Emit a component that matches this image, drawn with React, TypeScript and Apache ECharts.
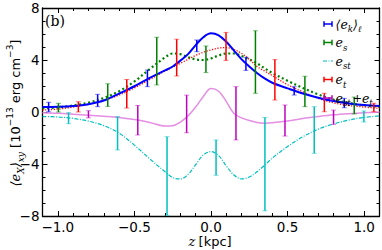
import React, { useEffect, useRef } from "react";
import * as echarts from "echarts";

// ---- data ----
const zs = [-1.1, -1.0, -0.9, -0.8, -0.7, -0.6, -0.5, -0.4, -0.3, -0.25, -0.2, -0.15, -0.1, -0.05, 0, 0.05, 0.1, 0.15, 0.2, 0.25, 0.3, 0.35, 0.4, 0.5, 0.6, 0.7, 0.8, 0.9, 1.0, 1.1];
const ekCurve = [0.38, 0.4, 0.46, 0.6, 0.88, 1.42, 1.98, 2.62, 3.2, 3.5, 3.95, 4.45, 5.15, 5.75, 6.05, 5.9, 5.4, 4.72, 4.05, 3.5, 3.0, 2.58, 2.25, 1.82, 1.42, 1.1, 0.84, 0.66, 0.53, 0.46];
const esCurve = [0.28, 0.35, 0.5, 0.72, 1.08, 1.6, 2.35, 3.3, 4.2, 4.5, 4.45, 4.22, 4.05, 4.0, 4.12, 4.35, 4.5, 4.5, 4.3, 4.05, 3.75, 3.36, 3.0, 2.4, 1.85, 1.35, 0.95, 0.7, 0.5, 0.4];
const etCurve = [0.15, 0.22, 0.38, 0.6, 0.9, 1.3, 1.85, 2.5, 3.15, 3.45, 3.75, 4.05, 4.35, 4.6, 4.78, 4.92, 4.95, 4.8, 4.5, 4.05, 3.5, 3.15, 2.8, 2.1, 1.55, 1.05, 0.7, 0.5, 0.38, 0.28];
const estCurve = [-0.35, -0.38, -0.5, -0.7, -1.05, -1.62, -2.55, -3.6, -4.6, -5.05, -5.15, -4.8, -4.05, -3.3, -3.05, -3.35, -4.15, -4.85, -5.15, -5.0, -4.6, -4.1, -3.55, -2.65, -1.9, -1.32, -0.92, -0.62, -0.42, -0.3];
const sumCurve = [-0.06, -0.1, -0.17, -0.25, -0.33, -0.42, -0.58, -0.8, -1.08, -1.06, -0.78, -0.3, 0.38, 1.2, 1.8, 1.6, 0.8, -0.12, -0.45, -0.66, -0.8, -0.86, -0.83, -0.7, -0.5, -0.35, -0.22, -0.13, -0.06, 0.0];

const ekBarZ = [-1.06, -0.74, -0.415, -0.093, 0.228, 0.543, 0.87];
const ekBarLo = [0.02, 0.41, 1.95, 4.64, 3.2, 1.3, 0.33];
const ekBarHi = [0.75, 1.36, 3.23, 5.54, 4.2, 1.95, 1.05];

const esBarZ = [-0.996, -0.674, -0.354, -0.033, 0.29, 0.613, 0.935];
const esBarLo = [0.0, 0.43, 2.08, 3.03, 1.44, 0.41, -0.15];
const esBarHi = [0.67, 2.17, 5.75, 5.08, 6.25, 2.75, 1.15];

const etBarZ = [-0.866, -0.55, -0.224, 0.098, 0.417, 0.74, 1.063];
const etBarLo = [0.0, 0.3, 2.77, 3.97, 0.92, 0.02, 0.02];
const etBarHi = [0.79, 2.5, 5.6, 6.12, 4.03, 1.44, 0.67];

const estBarZ = [-0.93, -0.61, -0.287, 0.033, 0.352, 0.674, 0.998];
const estBarLo = [-0.9, -2.92, -7.95, -4.87, -7.6, -3.18, -0.77];
const estBarHi = [-0.05, -0.36, -1.9, -2.15, -0.42, 0.41, 0.08];

const sumBarZ = [-0.8, -0.478, -0.159, 0.163, 0.483, 0.8];
const sumBarLo = [-0.45, -1.77, -1.6, -2.15, -1.85, -0.95];
const sumBarHi = [0.1, 0.5, 1.3, 1.95, 0.54, 0.15];

const xMajorTicks = [-1.0, -0.5, 0.0, 0.5, 1.0];
const xMinorTicks = [-1.1, -1.0, -0.9, -0.8, -0.7, -0.6, -0.5, -0.4, -0.3, -0.2, -0.1, 0.0, 0.1, 0.2, 0.3, 0.4, 0.5, 0.6, 0.7, 0.8, 0.9, 1.0, 1.1];
const xTickLabels = ["\u22121.0", "\u22120.5", "0.0", "0.5", "1.0"];
const yTickLabels: Record<string, string> = { "8": "8", "4": "4", "0": "0", "-4": "\u22124", "-8": "\u22128" };

// ---- styles ----
const C_BLUE = "#0000ff";
const C_GREEN = "#008000";
const C_RED = "#ff0000";
const C_CYAN = "#00bfbf";
const C_MAG = "#bf00bf";
const C_MAGLINE = "#e48ee4";
const SANS = "DejaVu Sans";
const SERIF = "DejaVu Serif";

function lineSeries(vals: number[], color: string, width: number, type: any, z: number) {
  return {
    type: "line",
    xAxisIndex: 0,
    yAxisIndex: 0,
    data: zs.map((x, i) => [x, vals[i]]),
    showSymbol: false,
    symbol: "none",
    smooth: 0.35,
    lineStyle: { color, width, type, cap: "butt" },
    z,
    silent: true,
  };
}

function barSeries(bz: number[], lo: number[], hi: number[], color: string, z: number) {
  return {
    type: "custom",
    xAxisIndex: 0,
    yAxisIndex: 0,
    data: bz.map((x, i) => [x, lo[i], hi[i]]),
    encode: { x: 0, y: [1, 2] },
    clip: true,
    z,
    silent: true,
    renderItem: (params: any, api: any) => {
      const x = api.value(0);
      const p1 = api.coord([x, api.value(1)]);
      const p2 = api.coord([x, api.value(2)]);
      const cw = 2.5;
      return {
        type: "group",
        children: [
          { type: "line", shape: { x1: p1[0], y1: p1[1], x2: p2[0], y2: p2[1] }, style: { stroke: color, lineWidth: 1.5 } },
          { type: "line", shape: { x1: p1[0] - cw, y1: p1[1], x2: p1[0] + cw, y2: p1[1] }, style: { stroke: color, lineWidth: 1, opacity: 0.5 } },
          { type: "line", shape: { x1: p2[0] - cw, y1: p2[1], x2: p2[0] + cw, y2: p2[1] }, style: { stroke: color, lineWidth: 1, opacity: 0.5 } },
        ],
      };
    },
  };
}

const mathRich = {
  m: { fontFamily: SERIF, fontStyle: "italic", fontSize: 13, lineHeight: 20, verticalAlign: "middle", fill: "#000" },
  s: { fontFamily: SERIF, fontStyle: "italic", fontSize: 9, lineHeight: 9, verticalAlign: "bottom", fill: "#000" },
  n: { fontFamily: SANS, fontSize: 13, lineHeight: 20, verticalAlign: "middle", fill: "#000" },
  sup: { fontFamily: SANS, fontSize: 9, lineHeight: 9, verticalAlign: "top", fill: "#000" },
};

const xNameRich = {
  m: { fontFamily: SERIF, fontStyle: "italic", fontSize: 13, lineHeight: 14, fill: "#000" },
  n: { fontFamily: SANS, fontSize: 13, lineHeight: 14, fill: "#000" },
};

const legRich = {
  m: { fontFamily: SERIF, fontStyle: "italic", fontSize: 12.5, lineHeight: 19, verticalAlign: "middle", fill: "#000" },
  s: { fontFamily: SERIF, fontStyle: "italic", fontSize: 8.5, lineHeight: 8.5, verticalAlign: "bottom", fill: "#000" },
  p: { fontFamily: SERIF, fontSize: 11, lineHeight: 19, verticalAlign: "middle", fill: "#000", padding: [0, 0, 0, 2] },
};

function hMarker(x: number, y: number, color: string) {
  return [
    { type: "line", z: 20, shape: { x1: x, y1: y, x2: x + 8, y2: y }, style: { stroke: color, lineWidth: 1.5 } },
    { type: "line", z: 20, shape: { x1: x, y1: y - 2.8, x2: x, y2: y + 2.8 }, style: { stroke: color, lineWidth: 1.5 } },
    { type: "line", z: 20, shape: { x1: x + 8, y1: y - 2.8, x2: x + 8, y2: y + 2.8 }, style: { stroke: color, lineWidth: 1.5 } },
  ];
}

export default function App() {
  const ref = useRef<HTMLDivElement>(null);
  useEffect(() => {
    if (!ref.current) return;
    const chart = echarts.init(ref.current, undefined, { renderer: "svg" });
    const axisLine = { show: true, onZero: false, lineStyle: { color: "#000", width: 1.3 } };
    const baseX = { type: "value", min: -1.1, max: 1.1, splitLine: { show: false }, gridIndex: 0 };
    const baseY = { type: "value", min: -8, max: 8, interval: 4, splitLine: { show: false }, minorSplitLine: { show: false } };
    const legX = 324;
    const legTX = 335.5;
    const legY = [24, 42.5, 61, 79.5, 98];
    const legText = (y: number, text: string) => ({
      type: "text",
      z: 20,
      x: legTX,
      y,
      style: { text, align: "left", verticalAlign: "middle", rich: legRich },
    });
    const option: any = {
      animation: false,
      grid: { left: 42.5, right: 2.5, top: 8, bottom: 34, containLabel: false },
      xAxis: [
        {
          ...baseX,
          position: "bottom",
          axisLine,
          axisTick: { show: true, inside: true, length: 5, customValues: xMajorTicks, lineStyle: { color: "#000", width: 1 } },
          axisLabel: {
            show: true,
            customValues: xMajorTicks,
            margin: 4,
            fontFamily: SANS,
            fontSize: 13.5,
            color: "#000",
            formatter: (v: number) => xTickLabels[xMajorTicks.findIndex((t) => Math.abs(t - v) < 1e-6)] ?? "",
          },
        },
        {
          ...baseX,
          position: "bottom",
          axisLine: { show: false, onZero: false },
          axisTick: { show: true, inside: true, length: 3, customValues: xMinorTicks, lineStyle: { color: "#000", width: 1 } },
          axisLabel: { show: false },
        },
        {
          ...baseX,
          position: "top",
          axisLine,
          axisTick: { show: true, inside: true, length: 5, customValues: xMajorTicks, lineStyle: { color: "#000", width: 1 } },
          axisLabel: { show: false },
        },
        {
          ...baseX,
          position: "top",
          axisLine: { show: false, onZero: false },
          axisTick: { show: true, inside: true, length: 3, customValues: xMinorTicks, lineStyle: { color: "#000", width: 1 } },
          axisLabel: { show: false },
        },
      ],
      yAxis: [
        {
          ...baseY,
          position: "left",
          axisLine,
          axisTick: { show: true, inside: true, length: 5, lineStyle: { color: "#000", width: 1 } },
          minorTick: { show: true, splitNumber: 4, length: 3, lineStyle: { color: "#000", width: 1 } },
          axisLabel: {
            show: true,
            margin: 3,
            fontFamily: SANS,
            fontSize: 13.5,
            color: "#000",
            formatter: (v: number) => yTickLabels[String(v)] ?? String(v),
          },
        },
        {
          ...baseY,
          position: "right",
          axisLine,
          axisTick: { show: true, inside: true, length: 5, lineStyle: { color: "#000", width: 1 } },
          minorTick: { show: true, splitNumber: 4, length: 3, lineStyle: { color: "#000", width: 1 } },
          axisLabel: { show: false },
        },
      ],
      series: [
        lineSeries(sumCurve, C_MAGLINE, 1.5, "solid", 2),
        lineSeries(estCurve, C_CYAN, 1.2, [4, 1.5, 1, 1.5], 2),
        lineSeries(esCurve, C_GREEN, 2.2, [2, 2.6], 3),
        lineSeries(etCurve, C_RED, 1.3, [1.2, 1.6], 3),
        lineSeries(ekCurve, C_BLUE, 2, "solid", 4),
        barSeries(sumBarZ, sumBarLo, sumBarHi, C_MAG, 5),
        barSeries(estBarZ, estBarLo, estBarHi, C_CYAN, 5),
        barSeries(etBarZ, etBarLo, etBarHi, C_RED, 5),
        barSeries(esBarZ, esBarLo, esBarHi, C_GREEN, 5),
        barSeries(ekBarZ, ekBarLo, ekBarHi, C_BLUE, 5),
      ],
      graphic: [
        {
          type: "text",
          z: 20,
          x: 45,
          y: 21,
          style: { text: "(b)", font: `14px '${SERIF}'`, fill: "#000", align: "left", verticalAlign: "middle" },
        },
        {
          type: "text",
          x: 210,
          y: 241.5,
          style: {
            text: "{m|z} {n|[kpc]}",
            align: "center",
            verticalAlign: "middle",
            rich: xNameRich,
          },
        },
        {
          type: "text",
          x: 15,
          y: 113,
          rotation: Math.PI / 2,
          style: {
            text: "{m|\u27E8e}{s|X}{m|\u27E9}{s|xy}{n| [10}{sup|\u221213}{n| erg cm}{sup|\u22123}{n|]}",
            align: "center",
            verticalAlign: "middle",
            rich: mathRich,
          },
        },
        ...hMarker(legX, legY[0], C_BLUE),
        ...hMarker(legX, legY[1], C_GREEN),
        {
          type: "line",
          z: 20,
          shape: { x1: legX - 1, y1: legY[2], x2: legX + 9, y2: legY[2] },
          style: { stroke: C_CYAN, lineWidth: 1.2, lineDash: [4, 1.5, 1, 1.5] },
        },
        ...hMarker(legX, legY[3], C_RED),
        ...hMarker(legX, legY[4], C_MAG),
        legText(legY[0], "{m|\u27E8e}{s|k}{m|\u27E9}{s|\u2113}"),
        legText(legY[1], "{m|e}{s|s}"),
        legText(legY[2], "{m|e}{s|st}"),
        legText(legY[3], "{m|e}{s|t}"),
        legText(legY[4], "{m|e}{s|st}{p|+}{m|e}{s|t}"),
      ],
    };
    chart.setOption(option);
    return () => chart.dispose();
  }, []);
  return <div ref={ref} style={{ position: "fixed", left: 0, top: 0, width: 382, height: 250, background: "#fff" }} />;
}
